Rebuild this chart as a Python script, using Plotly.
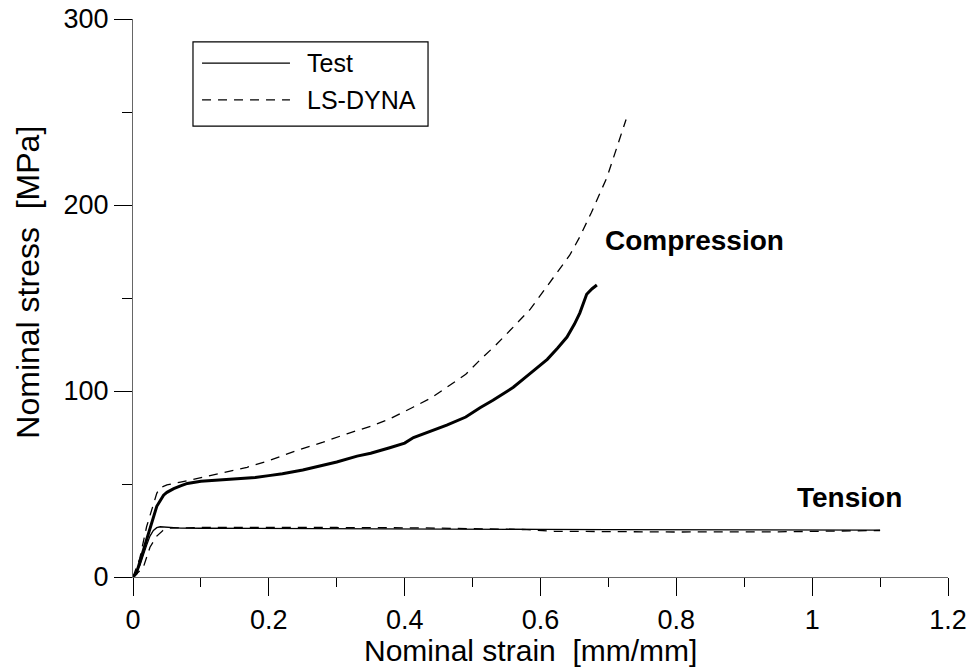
import plotly.graph_objects as go

# ---- data ----
comp_test_strain = [0.0, 0.005, 0.010, 0.015, 0.020, 0.025, 0.030, 0.035, 0.040, 0.045, 0.050,
                    0.060, 0.070, 0.080, 0.10, 0.12, 0.15, 0.18, 0.20, 0.22, 0.25, 0.28, 0.30,
                    0.33, 0.35, 0.378, 0.40, 0.413, 0.44, 0.462, 0.49, 0.511, 0.53, 0.56, 0.58,
                    0.60, 0.61, 0.625, 0.639, 0.65, 0.658, 0.668, 0.676, 0.683]
comp_test_stress = [0, 2, 8, 14, 21, 27, 33, 38, 41, 44, 45.5,
                    47.5, 49, 50.3, 51.5, 52, 52.6, 53.5, 54.5, 55.5, 57.5, 60, 61.8,
                    65, 66.5, 69.5, 72, 75, 78.5, 81.7, 86, 91, 95, 102, 108,
                    114, 117, 123, 129, 136, 142, 152, 155, 157]

comp_dyna_strain = [0.0, 0.01, 0.02, 0.03, 0.035, 0.040, 0.05, 0.07, 0.094, 0.13, 0.168, 0.20,
                    0.241, 0.28, 0.315, 0.35, 0.378, 0.413, 0.44, 0.462, 0.49, 0.511, 0.535,
                    0.560, 0.585, 0.609, 0.625, 0.643, 0.658, 0.675, 0.698, 0.712, 0.726]
comp_dyna_stress = [0, 10, 27, 40, 45, 48, 49.5, 51, 53, 56, 59, 62.5,
                    68, 72.5, 77, 81, 85, 91.4, 96.5, 102, 109, 116.7, 125,
                    134.4, 144, 156, 164, 173, 183, 196, 215, 230, 246]

tens_test_strain = [0.0, 0.01, 0.02, 0.025, 0.03, 0.035, 0.04, 0.05, 0.07, 0.1, 0.2, 0.3, 0.4,
                    0.5, 0.6, 0.7, 0.8, 0.9, 1.0, 1.1]
tens_test_stress = [0, 6, 17, 22, 25, 26.5, 27, 26.8, 26.3, 26.2, 26.0, 25.9, 25.8,
                    25.7, 25.6, 25.5, 25.5, 25.4, 25.3, 25.2]

tens_dyna_strain = [0.0, 0.015, 0.025, 0.035, 0.044, 0.055, 0.1, 0.2, 0.3, 0.43, 0.5, 0.58,
                    0.62, 0.7, 0.8, 0.95, 1.05, 1.1]
tens_dyna_stress = [0, 5, 16, 22, 25, 26.3, 26.6, 26.7, 26.6, 26.4, 25.8, 25.5,
                    24.6, 24.3, 24.2, 24.3, 24.8, 25.0]

x_tickvals = [0, 0.2, 0.4, 0.6, 0.8, 1.0, 1.2]
x_ticktext = ["0", "0.2", "0.4", "0.6", "0.8", "1", "1.2"]
y_tickvals = [0, 100, 200, 300]
y_ticktext = ["0", "100", "200", "300"]

series_names = ["Test", "LS-DYNA"]
labels = ["Compression", "Tension"]

FONT = "Liberation Sans, Arial, sans-serif"
DASH = "9px,7px"

fig = go.Figure()
fig.add_trace(go.Scatter(x=comp_test_strain, y=comp_test_stress, mode="lines",
                         line=dict(color="black", width=3), showlegend=False))
fig.add_trace(go.Scatter(x=comp_dyna_strain, y=comp_dyna_stress, mode="lines",
                         line=dict(color="black", width=1.3, dash=DASH), showlegend=False))
fig.add_trace(go.Scatter(x=tens_test_strain, y=tens_test_stress, mode="lines",
                         line=dict(color="black", width=1.3), showlegend=False))
fig.add_trace(go.Scatter(x=tens_dyna_strain, y=tens_dyna_stress, mode="lines",
                         line=dict(color="black", width=1.3, dash=DASH), showlegend=False))

axis_common = dict(showline=True, linecolor="#666666", linewidth=1.2, ticks="outside",
                   tickcolor="black", tickwidth=1, ticklen=18, showgrid=False, zeroline=False,
                   automargin=False, ticklabeloverflow="allow",
                   tickfont=dict(family=FONT, size=27, color="black"))

fig.update_xaxes(range=[0, 1.2], tickmode="array", tickvals=x_tickvals, ticktext=x_ticktext,
                 minor=dict(ticks="outside", dtick=0.1, tick0=0, ticklen=9, tickcolor="black",
                            showgrid=False),
                 **axis_common)
fig.update_yaxes(range=[0, 300], tickmode="array", tickvals=y_tickvals, ticktext=y_ticktext,
                 minor=dict(ticks="outside", dtick=50, tick0=0, ticklen=10, tickcolor="black",
                            showgrid=False),
                 **axis_common)

annotations = [
    dict(text="Nominal strain  [mm/mm]", xref="paper", yref="paper", x=0.488, y=-0.131,
         xanchor="center", yanchor="middle", showarrow=False,
         font=dict(family=FONT, size=30, color="black")),
    dict(text="Nominal stress  [MPa]", xref="paper", yref="paper", x=-0.129, y=0.529,
         xanchor="center", yanchor="middle", textangle=-90, showarrow=False,
         font=dict(family=FONT, size=32, color="black")),
    dict(text="<b>%s</b>" % labels[0], xref="x", yref="y", x=0.692, y=181,
         xanchor="left", yanchor="middle", showarrow=False,
         font=dict(family=FONT, size=28, color="black")),
    dict(text="<b>%s</b>" % labels[1], xref="x", yref="y", x=0.975, y=43,
         xanchor="left", yanchor="middle", showarrow=False,
         font=dict(family=FONT, size=28, color="black")),
    dict(text=series_names[0], xref="paper", yref="paper", x=0.211, y=0.921,
         xanchor="left", yanchor="middle", showarrow=False,
         font=dict(family=FONT, size=25, color="black")),
    dict(text=series_names[1], xref="paper", yref="paper", x=0.211, y=0.855,
         xanchor="left", yanchor="middle", showarrow=False,
         font=dict(family=FONT, size=25, color="black")),
]

shapes = [
    dict(type="rect", xref="paper", yref="paper", x0=0.0736, x1=0.362, y0=0.808, y1=0.959,
         line=dict(color="black", width=1.2), fillcolor="white", layer="above"),
    dict(type="line", xref="paper", yref="paper", x0=0.0847, x1=0.1926, y0=0.921, y1=0.921,
         line=dict(color="black", width=1.4)),
    dict(type="line", xref="paper", yref="paper", x0=0.0847, x1=0.1926, y0=0.855, y1=0.855,
         line=dict(color="black", width=1.4, dash=DASH)),
]

fig.update_layout(width=972, height=668, margin=dict(l=133, r=24, t=19, b=91, autoexpand=False),
                  plot_bgcolor="white", paper_bgcolor="white",
                  annotations=annotations, shapes=shapes, showlegend=False)

# remove the default page margin so the figure fills the window exactly
fig.write_html("out.html", config={"displayModeBar": False},
               post_script="document.body.style.margin='0';document.body.style.overflow='hidden';")
